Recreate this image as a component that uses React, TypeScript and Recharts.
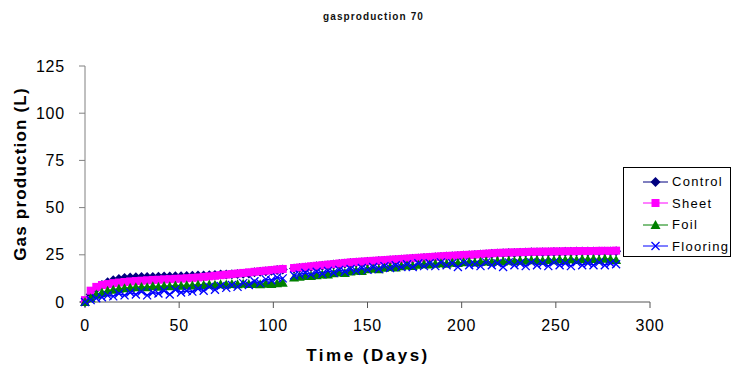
import { LineChart, Line, XAxis, YAxis } from "recharts";

// sampled every 3 days, day 108 missing in the logger
const days = [
  0, 3, 6, 9, 12, 15, 18, 21, 24, 27, 30, 33, 36, 39, 42, 45, 48, 51, 54, 57,
  60, 63, 66, 69, 72, 75, 78, 81, 84, 87, 90, 93, 96, 99, 102, 105, 108, 111, 114, 117,
  120, 123, 126, 129, 132, 135, 138, 141, 144, 147, 150, 153, 156, 159, 162, 165, 168, 171, 174, 177,
  180, 183, 186, 189, 192, 195, 198, 201, 204, 207, 210, 213, 216, 219, 222, 225, 228, 231, 234, 237,
  240, 243, 246, 249, 252, 255, 258, 261, 264, 267, 270, 273, 276, 279, 282,
];

const control = [
  0, 4, 7, 9, 10.5, 11.5, 12.2, 12.7, 13, 13.1,
  13.2, 13.3, 13.2, 13.4, 13.5, 13.5, 13.6, 13.7, 13.8, 13.9,
  14, 14.1, 14.2, 14.3, 14.5, 14.6, 14.7, 14.8, 14.9, 15.1,
  15.7, 16, 16.3, 16.6, 16.9, 17.2, null, 17.7, 18, 18.3,
  18.6, 18.9, 19.2, 19.5, 19.8, 20.1, 20.4, 20.7, 20.9, 21.1,
  21.3, 21.5, 21.7, 21.9, 22.1, 22.3, 22.5, 22.7, 22.9, 23.1,
  23.3, 23.5, 23.7, 23.9, 24.1, 24.2, 24.4, 24.6, 24.7, 24.9,
  25.1, 25.3, 25.5, 25.7, 25.8, 25.9, 26, 26.1, 26.2, 26.3,
  26.3, 26.4, 26.4, 26.5, 26.5, 26.6, 26.6, 26.7, 26.7, 26.7,
  26.7, 26.8, 26.8, 26.8, 26.9,
];

const sheet = [
  1, 6, 8, 9, 9.5, 10, 10.3, 10.6, 10.9, 11.1,
  11.3, 11.5, 11.7, 11.8, 12, 12.1, 12.3, 12.4, 12.6, 12.8,
  13, 13.3, 13.6, 13.9, 14.2, 14.5, 14.8, 15.1, 15.4, 15.7,
  16, 16.3, 16.6, 16.9, 17.2, 17.5, null, 18, 18.3, 18.6,
  18.9, 19.2, 19.5, 19.8, 20.1, 20.4, 20.7, 21, 21.2, 21.4,
  21.6, 21.8, 22, 22.2, 22.4, 22.6, 22.8, 23, 23.2, 23.4,
  23.6, 23.8, 24, 24.2, 24.4, 24.5, 24.7, 24.9, 25, 25.2,
  25.4, 25.6, 25.8, 26, 26.1, 26.2, 26.3, 26.4, 26.5, 26.6,
  26.6, 26.7, 26.7, 26.8, 26.8, 26.9, 26.9, 27, 27, 27,
  27, 27.1, 27.1, 27.1, 27.2,
];

const foil = [
  0, 2, 4, 5, 6, 6.5, 7, 7.3, 7.6, 7.8,
  8, 7.8, 8.3, 8.1, 8.5, 8.4, 8.7, 8.6, 8.9, 8.8,
  9.2, 9, 9.3, 9.1, 9.4, 9.3, 9.6, 9.4, 9.7, 9.6,
  9.5, 9.4, 9.7, 9.6, 9.9, 10.2, null, 13, 13.4, 13.8,
  13.8, 14.2, 14.6, 14.5, 15.2, 15.6, 15.4, 16.2, 16.6, 16.4,
  17.3, 17.6, 17.4, 18.2, 18.5, 18.3, 19, 19.3, 19.1, 19.7,
  20, 19.8, 20.3, 20.5, 20.2, 20.8, 20.6, 21, 21.2, 20.9,
  21.3, 21.5, 21.2, 21.7, 21.5, 21.9, 21.6, 22, 21.8, 22.1,
  22.2, 21.9, 22.3, 22.1, 22.5, 22.2, 22.6, 22.3, 22.7, 22.5,
  22.8, 22.4, 22.9, 22.6, 22.3,
];

const flooring = [
  0, 1, 2, 2.5, 3.5, 3, 4.5, 3.5, 5, 4,
  5.5, 3.5, 5, 4.5, 6, 4, 6.5, 5, 6, 5.5,
  7, 6, 8, 6.5, 8.5, 7.5, 9, 8, 10, 9,
  11, 10, 12, 11.5, 13, 12.5, null, 14, 14.5, 15.5,
  14.5, 16, 15, 16.5, 15.5, 17, 16, 17.5, 16.5, 18,
  17, 18.5, 17.5, 19, 18, 19.5, 18.5, 20, 18.5, 20.5,
  19, 20.5, 19, 21, 19.5, 20.5, 18.5, 21, 19.5, 20,
  19, 21, 19.5, 20.5, 18.5, 21, 19.5, 20.5, 19, 21,
  19.5, 20.5, 19, 21, 19.5, 20.5, 19, 21, 19.5, 20.5,
  19.5, 21, 19.5, 20.5, 20,
];

const xTicks = [0, 50, 100, 150, 200, 250, 300];
const yTicks = [0, 25, 50, 75, 100, 125];

const data = days.map((day, i) => ({
  day,
  Control: control[i],
  Sheet: sheet[i],
  Foil: foil[i],
  Flooring: flooring[i],
}));

const FONT = 'Arial, "Liberation Sans", sans-serif';

type Shape = "diamond" | "square" | "triangle" | "cross";

const series: { key: string; color: string; shape: Shape }[] = [
  { key: "Control", color: "#000080", shape: "diamond" },
  { key: "Sheet", color: "#FF00FF", shape: "square" },
  { key: "Foil", color: "#008000", shape: "triangle" },
  { key: "Flooring", color: "#0000FF", shape: "cross" },
];

function Marker({ x, y, shape, color }: { x: number; y: number; shape: Shape; color: string }) {
  if (shape === "diamond") {
    return <path d={`M${x},${y - 5}L${x + 5},${y}L${x},${y + 5}L${x - 5},${y}Z`} fill={color} />;
  }
  if (shape === "square") {
    return <rect x={x - 4} y={y - 4} width={8} height={8} fill={color} />;
  }
  if (shape === "triangle") {
    return <path d={`M${x},${y - 5}L${x + 5},${y + 4}L${x - 5},${y + 4}Z`} fill={color} />;
  }
  return (
    <path
      d={`M${x - 4},${y - 4}L${x + 4},${y + 4}M${x - 4},${y + 4}L${x + 4},${y - 4}`}
      stroke={color}
      strokeWidth={1.3}
      fill="none"
    />
  );
}

function makeDot(shape: Shape, color: string) {
  return (props: any) => {
    const { cx, cy, index } = props;
    if (cx == null || cy == null || props.value == null) return <g key={`d-${index}`} />;
    return (
      <g key={`d-${index}`}>
        <Marker x={cx} y={cy} shape={shape} color={color} />
      </g>
    );
  };
}

function LegendBox() {
  return (
    <div
      style={{
        position: "absolute",
        left: 623,
        top: 167,
        width: 108,
        height: 90,
        border: "1px solid #000",
        background: "#fff",
        boxSizing: "border-box",
        paddingTop: 3,
      }}
    >
      {series.map((s) => (
        <div key={s.key} style={{ display: "flex", alignItems: "center", height: 21.5 }}>
          <svg width={28} height={14} style={{ marginLeft: 18, flex: "none" }}>
            <line x1={1} x2={26} y1={7} y2={7} stroke={s.color} strokeWidth={1} />
            <Marker x={13.5} y={7} shape={s.shape} color={s.color} />
          </svg>
          <span
            style={{
              marginLeft: 2,
              fontFamily: FONT,
              fontSize: 13,
              letterSpacing: 1.3,
              color: "#000",
              whiteSpace: "nowrap",
            }}
          >
            {s.key}
          </span>
        </div>
      ))}
    </div>
  );
}

export default function App() {
  return (
    <div
      style={{
        position: "absolute",
        left: 0,
        top: 0,
        width: 741,
        height: 365,
        background: "#fff",
        fontFamily: FONT,
      }}
    >
      <div
        style={{
          position: "absolute",
          left: 0,
          width: 741,
          top: 11,
          textAlign: "center",
          fontSize: 10,
          fontWeight: "bold",
          letterSpacing: 1.1,
          color: "#111",
          paddingLeft: 3,
        }}
      >
        gasproduction 70
      </div>
      <LineChart width={741} height={365} data={data} margin={{ top: 66, right: 91, left: 0, bottom: 0 }}>
        <XAxis
          dataKey="day"
          type="number"
          domain={[0, 300]}
          ticks={xTicks}
          interval={0}
          height={63}
          tickSize={6}
          tickMargin={12}
          stroke="#555"
          tick={{ fill: "#000", fontSize: 16, fontFamily: FONT, letterSpacing: 0.8 }}
          label={() => (
            <text
              x={368}
              y={361}
              textAnchor="middle"
              fontFamily={FONT}
              fontSize={17}
              fontWeight="bold"
              letterSpacing={2.5}
              fill="#000"
            >
              Time (Days)
            </text>
          )}
        />
        <YAxis
          type="number"
          domain={[0, 125]}
          ticks={yTicks}
          interval={0}
          width={85}
          tickSize={6}
          tickMargin={14}
          stroke="#808080"
          tick={{ fill: "#000", fontSize: 16, fontFamily: FONT, letterSpacing: 0.8 }}
          label={() => (
            <text
              x={26}
              y={174}
              transform="rotate(-90 26 174)"
              textAnchor="middle"
              fontFamily={FONT}
              fontSize={17}
              fontWeight="bold"
              letterSpacing={1.2}
              fill="#000"
            >
              Gas production (L)
            </text>
          )}
        />
        {series.map((s) => (
          <Line
            key={s.key}
            dataKey={s.key}
            stroke={s.color}
            strokeWidth={1.5}
            dot={makeDot(s.shape, s.color)}
            activeDot={false}
            isAnimationActive={false}
            legendType="none"
          />
        ))}
      </LineChart>
      <LegendBox />
    </div>
  );
}
